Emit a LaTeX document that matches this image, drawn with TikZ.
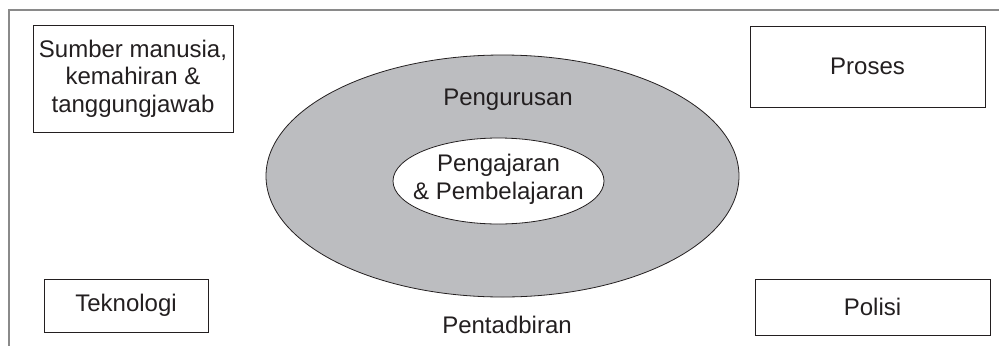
\documentclass[tikz,border=0pt]{standalone}
\usepackage{fontspec}
\setmainfont{Liberation Sans}
\usetikzlibrary{shapes.geometric}
\definecolor{inkgrey}{HTML}{231F20}
\definecolor{ringgrey}{HTML}{BCBDC0}
\definecolor{framegrey}{HTML}{8A8A8A}
\tikzstyle{factor}=[draw=inkgrey,line width=0.8pt,text=inkgrey,align=center,inner sep=2pt]
\tikzstyle{ring}=[ellipse,draw=inkgrey,line width=0.8pt,inner sep=0pt]
\tikzstyle{caption}=[text=inkgrey,align=center,inner sep=0pt]
\newcommand{\labelfont}{\fontsize{24}{27.5}\selectfont}

\begin{document}
\begin{tikzpicture}[x=1pt,y=-1pt,font=\labelfont]
    \useasboundingbox (0,0) rectangle (999,346);
%   frame
    \draw[framegrey,line width=1.3pt] (999,10) -- (9,10) -- (9,346);
%   corner boxes
    \node[factor,minimum width=200pt,minimum height=107pt] (sumber) at (133,78.5)
        {Sumber manusia,\\kemahiran \&\\tanggungjawab};
    \node[factor,minimum width=164pt,minimum height=53pt] (tekno) at (126,305.5) {Teknologi};
    \node[factor,minimum width=235pt,minimum height=81pt] (proses) at (867.5,66.5) {Proses};
    \node[factor,minimum width=235pt,minimum height=56pt] (polisi) at (872.5,307) {Polisi};
%   rings
    \node[ring,fill=ringgrey,minimum width=473pt,minimum height=242pt] (urus) at (502.5,176) {};
    \node[ring,fill=white,minimum width=211pt,minimum height=86pt] (ajar) at (498.5,181) {};
    \node[caption] (ajartext) at (498.5,179.5) {Pengajaran\\\& Pembelajaran};
    \node[caption] (urustext) at (508,100) {Pengurusan};
    \node[caption] (tadbir) at (507,325) {Pentadbiran};
\end{tikzpicture}
\end{document}
